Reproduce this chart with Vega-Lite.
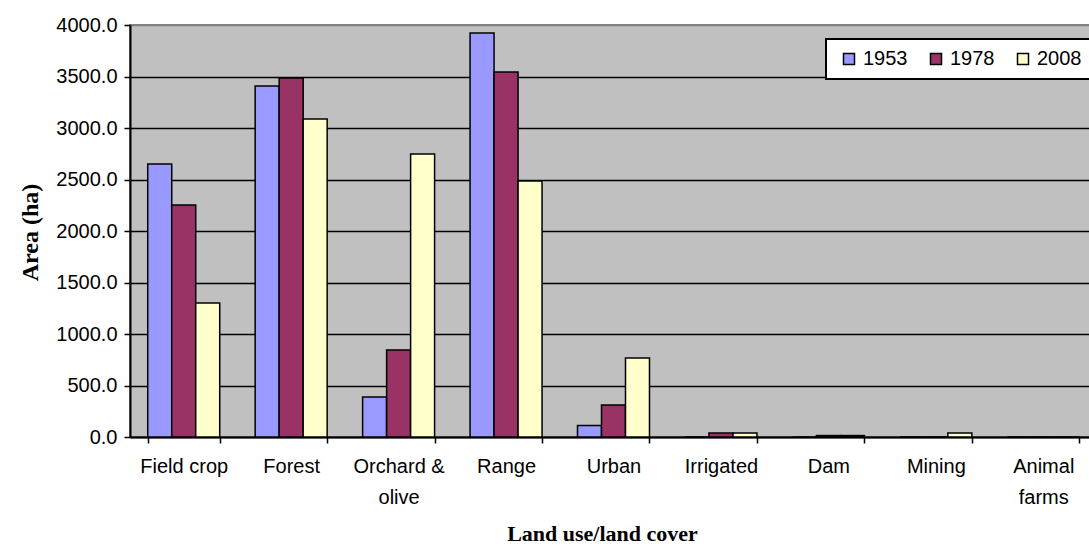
{
  "$schema": "https://vega.github.io/schema/vega-lite/v6.json",
  "width": 967,
  "height": 412,
  "autosize": {"type": "none"},
  "padding": {"left": 130, "top": 25, "right": 0, "bottom": 117},
  "background": "white",
  "data": {
    "values": [
      {"landuse": "Field crop", "year": "1953", "area": 2650},
      {"landuse": "Field crop", "year": "1978", "area": 2252},
      {"landuse": "Field crop", "year": "2008", "area": 1301},
      {"landuse": "Forest", "year": "1953", "area": 3408},
      {"landuse": "Forest", "year": "1978", "area": 3485},
      {"landuse": "Forest", "year": "2008", "area": 3087},
      {"landuse": "Orchard & olive", "year": "1953", "area": 388},
      {"landuse": "Orchard & olive", "year": "1978", "area": 845},
      {"landuse": "Orchard & olive", "year": "2008", "area": 2748},
      {"landuse": "Range", "year": "1953", "area": 3922},
      {"landuse": "Range", "year": "1978", "area": 3544},
      {"landuse": "Range", "year": "2008", "area": 2485},
      {"landuse": "Urban", "year": "1953", "area": 112},
      {"landuse": "Urban", "year": "1978", "area": 311},
      {"landuse": "Urban", "year": "2008", "area": 767},
      {"landuse": "Irrigated", "year": "1953", "area": 0},
      {"landuse": "Irrigated", "year": "1978", "area": 38},
      {"landuse": "Irrigated", "year": "2008", "area": 38},
      {"landuse": "Dam", "year": "1953", "area": 0},
      {"landuse": "Dam", "year": "1978", "area": 14},
      {"landuse": "Dam", "year": "2008", "area": 14},
      {"landuse": "Mining", "year": "1953", "area": 0},
      {"landuse": "Mining", "year": "1978", "area": 0},
      {"landuse": "Mining", "year": "2008", "area": 38},
      {"landuse": "Animal farms", "year": "1953", "area": 0},
      {"landuse": "Animal farms", "year": "1978", "area": 0},
      {"landuse": "Animal farms", "year": "2008", "area": 0}
    ]
  },
  "mark": {"type": "bar", "stroke": "black", "strokeWidth": 1.5, "strokeJoin": "miter"},
  "encoding": {
    "x": {
      "field": "landuse",
      "type": "nominal",
      "sort": ["Field crop", "Forest", "Orchard & olive", "Range", "Urban", "Irrigated", "Dam", "Mining", "Animal farms"],
      "scale": {"paddingInner": 0.33, "paddingOuter": 0.165},
      "axis": {
        "title": "Land use/land cover",
        "titleFont": "Liberation Serif",
        "titleFontSize": 22,
        "titleFontWeight": "bold",
        "titleColor": "black",
        "titleX": 472,
        "titleY": 96,
        "titleAlign": "center",
        "titleBaseline": "middle",
        "labelAngle": 0,
        "labelFontSize": 20,
        "labelColor": "black",
        "labelBaseline": "top",
        "labelPadding": 13,
        "labelLineHeight": 31,
        "labelLimit": 0,
        "labelExpr": "datum.label == 'Orchard & olive' ? ['Orchard &', 'olive'] : datum.label == 'Animal farms' ? ['Animal', 'farms'] : datum.label",
        "tickBand": "extent",
        "tickSize": 6,
        "tickColor": "black",
        "tickWidth": 1.5,
        "domainColor": "black",
        "domainWidth": 2,
        "grid": false
      }
    },
    "xOffset": {
      "field": "year",
      "type": "nominal",
      "scale": {"paddingInner": 0, "paddingOuter": 0}
    },
    "y": {
      "field": "area",
      "type": "quantitative",
      "scale": {"domain": [0, 4000], "nice": false},
      "axis": {
        "title": "Area (ha)",
        "titleFont": "Liberation Serif",
        "titleFontSize": 24,
        "titleFontWeight": "bold",
        "titleColor": "black",
        "titleX": -100,
        "titleY": 207,
        "titleAngle": -90,
        "titleAlign": "center",
        "titleBaseline": "middle",
        "values": [0, 500, 1000, 1500, 2000, 2500, 3000, 3500, 4000],
        "format": ".1f",
        "labelFontSize": 20,
        "labelColor": "black",
        "labelPadding": 7,
        "tickSize": 6,
        "tickColor": "black",
        "tickWidth": 1.5,
        "domainColor": "black",
        "domainWidth": 2,
        "gridColor": {"condition": {"test": "datum.value === 4000", "value": "#808080"}, "value": "black"},
        "gridWidth": 1.5
      }
    },
    "color": {
      "field": "year",
      "type": "nominal",
      "scale": {"domain": ["1953", "1978", "2008"], "range": ["#9999FF", "#993366", "#FFFFCC"]},
      "legend": {
        "title": null,
        "orient": "none",
        "legendX": 696,
        "legendY": 14,
        "direction": "horizontal",
        "fillColor": "white",
        "strokeColor": "black",
        "padding": 10,
        "symbolType": "square",
        "symbolSize": 121,
        "symbolStrokeColor": "black",
        "symbolStrokeWidth": 1.5,
        "symbolOffset": 3,
        "labelFontSize": 20,
        "labelColor": "black",
        "labelOffset": 4,
        "columnPadding": 15
      }
    }
  },
  "config": {
    "font": "Liberation Sans",
    "view": {"fill": "#C0C0C0", "stroke": "#808080", "strokeWidth": 2},
    "legend": {"strokeWidth": 2}
  }
}
